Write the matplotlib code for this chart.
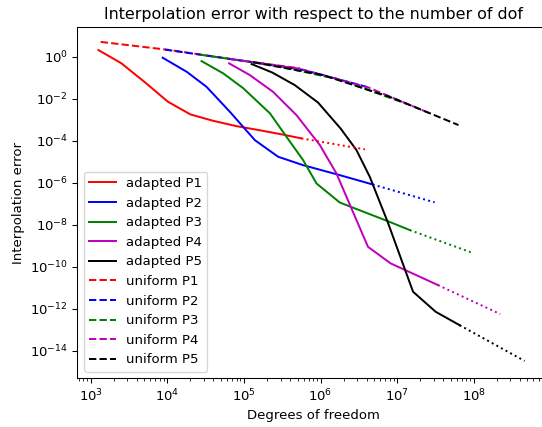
import numpy as np
import matplotlib
matplotlib.use('Agg')
import matplotlib.pyplot as plt

# adapted refinement (solid) + extrapolated tail (dotted)
dof_ad_p1 = [1260, 2510, 5130, 10200, 20000, 39800, 79400, 158000, 316000, 562000]
err_ad_p1 = [2.09, 0.49, 0.060, 0.0072, 0.0018, 8.9e-4, 5.0e-4, 3.2e-4, 2.0e-4, 1.3e-4]
dof_ex_p1 = [562000, 3.8e6]
err_ex_p1 = [1.3e-4, 3.9e-5]

dof_ad_p2 = [8690, 17900, 32500, 65500, 139000, 279000, 592000, 1.79e6, 4.79e6]
err_ad_p2 = [0.90, 0.193, 0.037, 0.0024, 1.07e-4, 1.74e-5, 6.9e-6, 2.3e-6, 8.3e-7]
dof_ex_p2 = [4.79e6, 3.08e7]
err_ex_p2 = [8.3e-7, 1.17e-7]

dof_ad_p3 = [28000, 53600, 97700, 219000, 359000, 592000, 885000, 1.78e6, 7.94e6, 1.46e7]
err_ad_p3 = [0.62, 0.162, 0.032, 0.0020, 1.55e-4, 1.2e-5, 9.3e-7, 1.15e-7, 1.38e-8, 5.6e-9]
dof_ex_p3 = [1.46e7, 9.3e7]
err_ex_p3 = [5.6e-9, 4.8e-10]

dof_ad_p4 = [64100, 119000, 240000, 485000, 977000, 1.61e6, 2.53e6, 4.16e6, 8.22e6, 3.40e7]
err_ad_p4 = [0.485, 0.135, 0.0214, 0.00166, 6.3e-5, 2.8e-6, 6.0e-8, 8.9e-10, 1.45e-10, 1.35e-11]
dof_ex_p4 = [3.40e7, 2.21e8]
err_ex_p4 = [1.35e-11, 5.6e-13]

dof_ad_p5 = [126000, 234000, 461000, 927000, 1.83e6, 2.94e6, 4.38e6, 7.52e6, 1.61e7, 3.18e7, 6.53e7]
err_ad_p5 = [0.449, 0.178, 0.0447, 0.0066, 3.8e-4, 3.6e-5, 1.95e-6, 1.35e-8, 6.5e-12, 7.2e-13, 1.66e-13]
dof_ex_p5 = [6.53e7, 4.59e8]
err_ex_p5 = [1.66e-13, 3.3e-15]

# uniform refinement
dof_un_p1 = [1350, 10700, 85000, 540000]
err_un_p1 = [5.1, 2.1, 0.69, 0.28]
dof_un_p2 = [9330, 74100, 589000, 3.98e6]
err_un_p2 = [2.19, 0.74, 0.24, 0.037]
dof_un_p3 = [26900, 214000, 1.70e6, 1.35e7]
err_un_p3 = [1.25, 0.43, 0.085, 0.0056]
dof_un_p4 = [66100, 525000, 4.17e6, 2.69e7]
err_un_p4 = [0.78, 0.27, 0.035, 0.0020]
dof_un_p5 = [132000, 1.05e6, 8.32e6, 6.31e7]
err_un_p5 = [0.55, 0.138, 0.0117, 5.6e-4]

colors = ['r', 'b', 'g', 'm', 'k']
adapted = [(dof_ad_p1, err_ad_p1), (dof_ad_p2, err_ad_p2), (dof_ad_p3, err_ad_p3),
           (dof_ad_p4, err_ad_p4), (dof_ad_p5, err_ad_p5)]
extrap = [(dof_ex_p1, err_ex_p1), (dof_ex_p2, err_ex_p2), (dof_ex_p3, err_ex_p3),
          (dof_ex_p4, err_ex_p4), (dof_ex_p5, err_ex_p5)]
uniform = [(dof_un_p1, err_un_p1), (dof_un_p2, err_un_p2), (dof_un_p3, err_un_p3),
           (dof_un_p4, err_un_p4), (dof_un_p5, err_un_p5)]

fig = plt.figure(figsize=(542 / 95, 427 / 95), dpi=95)
ax = fig.add_axes([0.1426, 0.114, 0.870, 0.8234])

for i, (x, y) in enumerate(adapted):
    ax.plot(x, y, color=colors[i], linestyle='-', label='adapted P' + str(i + 1))
for i, (x, y) in enumerate(uniform):
    ax.plot(x, y, color=colors[i], linestyle='--', label='uniform P' + str(i + 1))
for i, (x, y) in enumerate(extrap):
    ax.plot(x, y, color=colors[i], linestyle=':')

ax.set_xscale('log')
ax.set_yscale('log')
ax.set_xlim(10 ** 2.825, 10 ** 8.979)
ax.set_ylim(10 ** -15.31, 10 ** 1.43)
ax.set_xlabel('Degrees of freedom')
ax.set_ylabel('Interpolation error')
ax.set_title('Interpolation error with respect to the number of dof')
ax.legend(loc='lower left')

fig.savefig('out.png', dpi=95)
